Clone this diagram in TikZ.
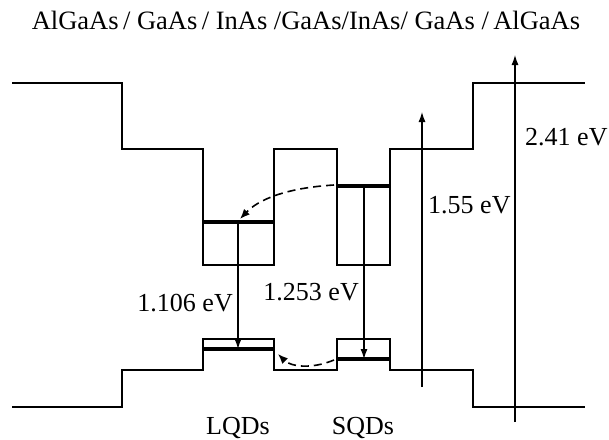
\documentclass[tikz,border=0pt]{standalone}
\usepackage{fontspec}
\setmainfont{Liberation Serif}
\usetikzlibrary{arrows.meta, positioning, calc}

\begin{document}
\begin{tikzpicture}[
    x=1pt, y=-1pt,
    band/.style={line width=1.5pt, line join=miter},
    level/.style={line width=3.4pt},
    trans/.style={-{Latex[length=10pt, width=7pt]}, line width=1.2pt},
    hop/.style={-{Latex[length=10pt, width=8pt]}, line width=1.6pt, dash pattern=on 8pt off 5pt},
    lbl/.style={font=\fontsize{26}{30}\selectfont, inner sep=1pt}
]
\useasboundingbox (0,0) rectangle (609,439);

% CONDUCTION BAND
\draw[band] (12,83) -- (122,83) -- (122,149) -- (203,149) -- (203,265) -- (274,265)
    -- (274,149) -- (337,149) -- (337,265) -- (390,265) -- (390,149)
    -- (473,149) -- (473,83) -- (585,83);

% VALENCE BAND
\draw[band] (12,407) -- (122,407) -- (122,370) -- (203,370) -- (203,339) -- (274,339)
    -- (274,370) -- (337,370) -- (337,339) -- (390,339) -- (390,370)
    -- (473,370) -- (473,407) -- (585,407);

% QD LEVELS
\draw[level] (203,222) -- (274,222);
\draw[level] (337,186) -- (390,186);
\draw[level] (203,349) -- (274,349);
\draw[level] (337,359) -- (390,359);

\coordinate (lqdC) at (238,222);
\coordinate (lqdV) at (238,349);
\coordinate (sqdC) at (364,186);
\coordinate (sqdV) at (364,359);
\coordinate (sqdCout) at (334,185);
\coordinate (lqdCin) at (240,219);
\coordinate (sqdVout) at (334,360);
\coordinate (lqdVin) at (278,354);

% TRANSITIONS
\draw[trans] (lqdC) -- (lqdV);
\draw[trans] (sqdC) -- (sqdV);

\draw[hop] (sqdCout) .. controls (285,188) and (258,200) .. (lqdCin);
\draw[hop] (sqdVout) .. controls (310,370) and (290,366) .. (lqdVin);

% GAP ARROWS
\coordinate (gaBot) at (422,387);
\coordinate (gaTop) at (422,112);
\coordinate (alBot) at (515,422);
\coordinate (alTop) at (515,55);
\draw[trans] (gaBot) -- (gaTop);
\draw[trans] (alBot) -- (alTop);

% LABELS
\node[lbl, font=\fontsize{26.5}{30}\selectfont] (title) at (306,20)
    {AlGaAs\,/ GaAs\,/ InAs /GaAs/InAs/ GaAs /\,AlGaAs};
\node[lbl, anchor=west] (eAl) at (524,137) {2.41 eV};
\node[lbl, anchor=west] (eGa) at (427,205) {1.55 eV};
\node[lbl, anchor=east] (eL) at (234,303) {1.106 eV};
\node[lbl, anchor=east] (eS) at (360,292) {1.253 eV};
\node[lbl, anchor=base] (lqd) at (238,434) {LQDs};
\node[lbl, anchor=base] (sqd) at (363,434) {SQDs};

\end{tikzpicture}
\end{document}
